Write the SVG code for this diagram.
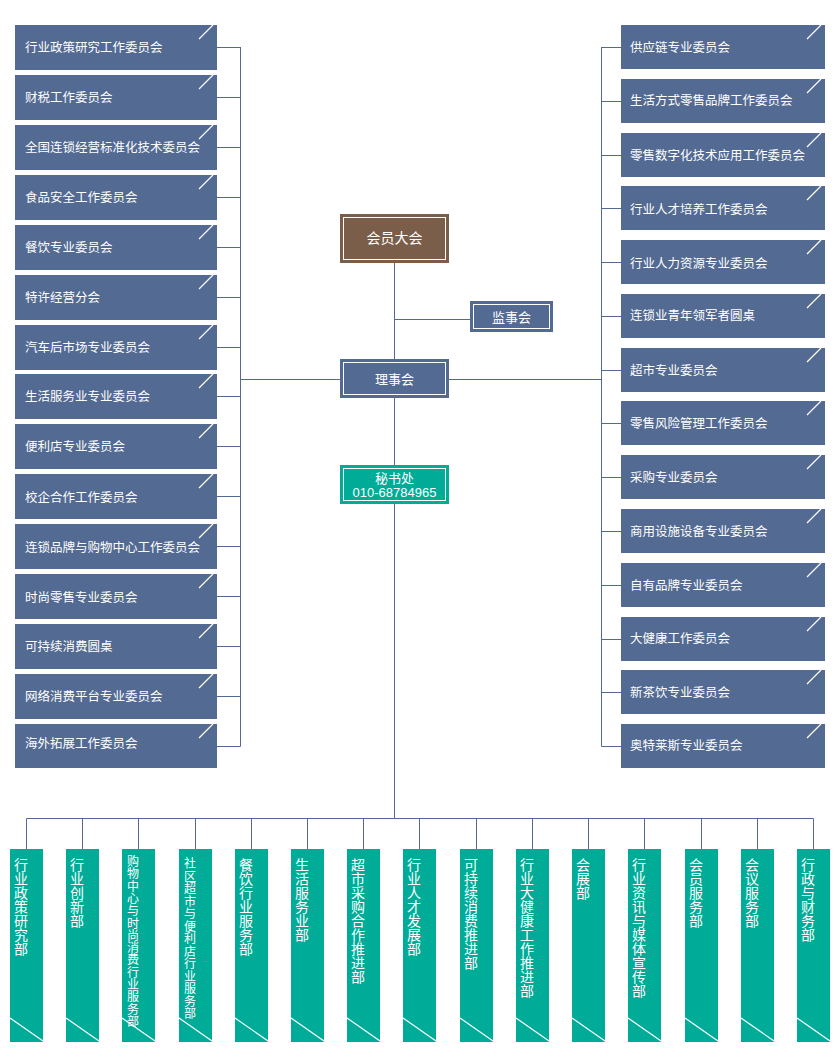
<svg xmlns="http://www.w3.org/2000/svg" width="840" height="1058" viewBox="0 0 840 1058">
<style>
text{font-family:"Liberation Sans","Noto Sans CJK SC",sans-serif;fill:#fff}
.b{fill:#536a92}
.t{fill:#00ac98}
.lbl{font-size:12.5px}
.v{font-size:14px;text-anchor:middle}
.c{text-anchor:middle;font-size:13px}
.d{stroke:#fff;stroke-width:1.2;fill:none}
.ln{stroke:#536a92;stroke-width:1;fill:none}
.in{fill:none;stroke:#fff;stroke-width:1}
</style>
<defs>
<g id="lcorner"><line class="d" x1="-18" y1="14" x2="-4" y2="0"/></g>
<g id="bcorner"><line class="d" x1="0" y1="169" x2="33" y2="192"/></g>
</defs>
<g id="connectors">
<path class="ln" d="M394.5 263V359M394.5 398V465M394.5 504V818.5M394.5 319.5H470"/>
<path class="ln" d="M240.5 47V746.5M240.5 379.5H340"/>
<path class="ln" d="M217 47.5H240.5M217 97.5H240.5M217 147.5H240.5M217 197.5H240.5M217 247.5H240.5M217 297.5H240.5M217 347.5H240.5M217 396.5H240.5M217 446.5H240.5M217 496.5H240.5M217 546.5H240.5M217 596.5H240.5M217 646.5H240.5M217 696.5H240.5M217 746.5H240.5"/>
<path class="ln" d="M601.5 47V746.5M449 379.5H601.5"/>
<path class="ln" d="M601.5 47.5H621M601.5 101.5H621M601.5 155.5H621M601.5 208.5H621M601.5 262.5H621M601.5 316.5H621M601.5 370.5H621M601.5 423.5H621M601.5 477.5H621M601.5 531.5H621M601.5 585.5H621M601.5 639.5H621M601.5 692.5H621M601.5 746.5H621"/>
<path class="ln" d="M26.5 818.5H813.5M26.5 818.5V849M82.5 818.5V849M138.5 818.5V849M195.5 818.5V849M251.5 818.5V849M307.5 818.5V849M363.5 818.5V849M419.5 818.5V849M476.5 818.5V849M532.5 818.5V849M588.5 818.5V849M644.5 818.5V849M701.5 818.5V849M757.5 818.5V849M813.5 818.5V849"/>
</g>
<g id="n-hyda">
<rect x="340" y="214" width="109" height="49" fill="#7a5e49"/>
<rect class="in" x="343.5" y="217.5" width="102" height="42"/>
<text x="394.5" y="243" class="c" style="font-size:14px">会员大会</text>
</g>
<g id="n-jsh">
<rect class="b" x="470" y="301" width="83" height="31"/>
<rect class="in" x="473.5" y="304.5" width="76" height="24"/>
<text x="511.5" y="321.5" class="c">监事会</text>
</g>
<g id="n-lsh">
<rect class="b" x="340" y="359" width="109" height="39"/>
<rect class="in" x="343.5" y="362.5" width="102" height="32"/>
<text x="394.5" y="383.5" class="c">理事会</text>
</g>
<g id="n-msc">
<rect class="t" x="340" y="465" width="109" height="39"/>
<rect class="in" x="343.5" y="468.5" width="102" height="32"/>
<text x="394.5" y="483" class="c">秘书处</text>
<text x="394.5" y="497" class="c">010-68784965</text>
</g>
<g id="left-committees">
<g id="l1"><rect class="b" x="15" y="25" width="202" height="45"/><use href="#lcorner" x="217" y="25"/><text class="lbl" x="25" y="52">行业政策研究工作委员会</text></g>
<g id="l2"><rect class="b" x="15" y="75" width="202" height="45"/><use href="#lcorner" x="217" y="75"/><text class="lbl" x="25" y="102">财税工作委员会</text></g>
<g id="l3"><rect class="b" x="15" y="125" width="202" height="45"/><use href="#lcorner" x="217" y="125"/><text class="lbl" x="25" y="152">全国连锁经营标准化技术委员会</text></g>
<g id="l4"><rect class="b" x="15" y="175" width="202" height="45"/><use href="#lcorner" x="217" y="175"/><text class="lbl" x="25" y="202">食品安全工作委员会</text></g>
<g id="l5"><rect class="b" x="15" y="225" width="202" height="45"/><use href="#lcorner" x="217" y="225"/><text class="lbl" x="25" y="252">餐饮专业委员会</text></g>
<g id="l6"><rect class="b" x="15" y="275" width="202" height="45"/><use href="#lcorner" x="217" y="275"/><text class="lbl" x="25" y="302">特许经营分会</text></g>
<g id="l7"><rect class="b" x="15" y="325" width="202" height="45"/><use href="#lcorner" x="217" y="325"/><text class="lbl" x="25" y="352">汽车后市场专业委员会</text></g>
<g id="l8"><rect class="b" x="15" y="374" width="202" height="45"/><use href="#lcorner" x="217" y="374"/><text class="lbl" x="25" y="401">生活服务业专业委员会</text></g>
<g id="l9"><rect class="b" x="15" y="424" width="202" height="45"/><use href="#lcorner" x="217" y="424"/><text class="lbl" x="25" y="451">便利店专业委员会</text></g>
<g id="l10"><rect class="b" x="15" y="474" width="202" height="45"/><use href="#lcorner" x="217" y="474"/><text class="lbl" x="25" y="502">校企合作工作委员会</text></g>
<g id="l11"><rect class="b" x="15" y="524" width="202" height="45"/><use href="#lcorner" x="217" y="524"/><text class="lbl" x="25" y="552">连锁品牌与购物中心工作委员会</text></g>
<g id="l12"><rect class="b" x="15" y="574" width="202" height="45"/><use href="#lcorner" x="217" y="574"/><text class="lbl" x="25" y="602">时尚零售专业委员会</text></g>
<g id="l13"><rect class="b" x="15" y="624" width="202" height="45"/><use href="#lcorner" x="217" y="624"/><text class="lbl" x="25" y="651">可持续消费圆桌</text></g>
<g id="l14"><rect class="b" x="15" y="674" width="202" height="45"/><use href="#lcorner" x="217" y="674"/><text class="lbl" x="25" y="701">网络消费平台专业委员会</text></g>
<g id="l15"><rect class="b" x="15" y="724" width="202" height="44"/><use href="#lcorner" x="217" y="724"/><text class="lbl" x="25" y="748">海外拓展工作委员会</text></g>
</g>
<g id="right-committees">
<g id="r1"><rect class="b" x="621" y="25" width="204" height="44"/><use href="#lcorner" x="825" y="25"/><text class="lbl" x="630" y="52">供应链专业委员会</text></g>
<g id="r2"><rect class="b" x="621" y="79" width="204" height="44"/><use href="#lcorner" x="825" y="79"/><text class="lbl" x="630" y="105">生活方式零售品牌工作委员会</text></g>
<g id="r3"><rect class="b" x="621" y="133" width="204" height="44"/><use href="#lcorner" x="825" y="133"/><text class="lbl" x="630" y="160">零售数字化技术应用工作委员会</text></g>
<g id="r4"><rect class="b" x="621" y="186" width="204" height="44"/><use href="#lcorner" x="825" y="186"/><text class="lbl" x="630" y="214">行业人才培养工作委员会</text></g>
<g id="r5"><rect class="b" x="621" y="240" width="204" height="44"/><use href="#lcorner" x="825" y="240"/><text class="lbl" x="630" y="268">行业人力资源专业委员会</text></g>
<g id="r6"><rect class="b" x="621" y="294" width="204" height="44"/><use href="#lcorner" x="825" y="294"/><text class="lbl" x="630" y="320">连锁业青年领军者圆桌</text></g>
<g id="r7"><rect class="b" x="621" y="348" width="204" height="44"/><use href="#lcorner" x="825" y="348"/><text class="lbl" x="630" y="375">超市专业委员会</text></g>
<g id="r8"><rect class="b" x="621" y="401" width="204" height="44"/><use href="#lcorner" x="825" y="401"/><text class="lbl" x="630" y="428">零售风险管理工作委员会</text></g>
<g id="r9"><rect class="b" x="621" y="455" width="204" height="44"/><use href="#lcorner" x="825" y="455"/><text class="lbl" x="630" y="482">采购专业委员会</text></g>
<g id="r10"><rect class="b" x="621" y="509" width="204" height="44"/><use href="#lcorner" x="825" y="509"/><text class="lbl" x="630" y="536">商用设施设备专业委员会</text></g>
<g id="r11"><rect class="b" x="621" y="563" width="204" height="44"/><use href="#lcorner" x="825" y="563"/><text class="lbl" x="630" y="590">自有品牌专业委员会</text></g>
<g id="r12"><rect class="b" x="621" y="617" width="204" height="44"/><use href="#lcorner" x="825" y="617"/><text class="lbl" x="630" y="643">大健康工作委员会</text></g>
<g id="r13"><rect class="b" x="621" y="670" width="204" height="44"/><use href="#lcorner" x="825" y="670"/><text class="lbl" x="630" y="697">新茶饮专业委员会</text></g>
<g id="r14"><rect class="b" x="621" y="724" width="204" height="44"/><use href="#lcorner" x="825" y="724"/><text class="lbl" x="630" y="750">奥特莱斯专业委员会</text></g>
</g>
<g id="departments">
<g id="d1"><rect class="t" x="10" y="849" width="33" height="193"/><use href="#bcorner" x="10" y="849"/><text class="v" x="21" y="870"><tspan x="21">行</tspan><tspan x="21" dy="14">业</tspan><tspan x="21" dy="14">政</tspan><tspan x="21" dy="14">策</tspan><tspan x="21" dy="14">研</tspan><tspan x="21" dy="14">究</tspan><tspan x="21" dy="14">部</tspan></text></g>
<g id="d2"><rect class="t" x="66" y="849" width="33" height="193"/><use href="#bcorner" x="66" y="849"/><text class="v" x="77" y="870"><tspan x="77">行</tspan><tspan x="77" dy="14">业</tspan><tspan x="77" dy="14">创</tspan><tspan x="77" dy="14">新</tspan><tspan x="77" dy="14">部</tspan></text></g>
<g id="d3"><rect class="t" x="122" y="849" width="33" height="193"/><use href="#bcorner" x="122" y="849"/><text class="v" x="133" y="866" style="font-size:12px"><tspan x="133">购</tspan><tspan x="133" dy="12.3">物</tspan><tspan x="133" dy="12.3">中</tspan><tspan x="133" dy="12.3">心</tspan><tspan x="133" dy="12.3">与</tspan><tspan x="133" dy="12.3">时</tspan><tspan x="133" dy="12.3">尚</tspan><tspan x="133" dy="12.3">消</tspan><tspan x="133" dy="12.3">费</tspan><tspan x="133" dy="12.3">行</tspan><tspan x="133" dy="12.3">业</tspan><tspan x="133" dy="12.3">服</tspan><tspan x="133" dy="12.3">务</tspan><tspan x="133" dy="12.3">部</tspan></text></g>
<g id="d4"><rect class="t" x="179" y="849" width="33" height="193"/><use href="#bcorner" x="179" y="849"/><text class="v" x="190" y="868" style="font-size:12px"><tspan x="190">社</tspan><tspan x="190" dy="12.5">区</tspan><tspan x="190" dy="12.5">超</tspan><tspan x="190" dy="12.5">市</tspan><tspan x="190" dy="12.5">与</tspan><tspan x="190" dy="12.5">便</tspan><tspan x="190" dy="12.5">利</tspan><tspan x="190" dy="12.5">店</tspan><tspan x="190" dy="12.5">行</tspan><tspan x="190" dy="12.5">业</tspan><tspan x="190" dy="12.5">服</tspan><tspan x="190" dy="12.5">务</tspan><tspan x="190" dy="12.5">部</tspan></text></g>
<g id="d5"><rect class="t" x="235" y="849" width="33" height="193"/><use href="#bcorner" x="235" y="849"/><text class="v" x="246" y="870"><tspan x="246">餐</tspan><tspan x="246" dy="14">饮</tspan><tspan x="246" dy="14">行</tspan><tspan x="246" dy="14">业</tspan><tspan x="246" dy="14">服</tspan><tspan x="246" dy="14">务</tspan><tspan x="246" dy="14">部</tspan></text></g>
<g id="d6"><rect class="t" x="291" y="849" width="33" height="193"/><use href="#bcorner" x="291" y="849"/><text class="v" x="302" y="870"><tspan x="302">生</tspan><tspan x="302" dy="14">活</tspan><tspan x="302" dy="14">服</tspan><tspan x="302" dy="14">务</tspan><tspan x="302" dy="14">业</tspan><tspan x="302" dy="14">部</tspan></text></g>
<g id="d7"><rect class="t" x="347" y="849" width="33" height="193"/><use href="#bcorner" x="347" y="849"/><text class="v" x="358" y="870"><tspan x="358">超</tspan><tspan x="358" dy="14">市</tspan><tspan x="358" dy="14">采</tspan><tspan x="358" dy="14">购</tspan><tspan x="358" dy="14">合</tspan><tspan x="358" dy="14">作</tspan><tspan x="358" dy="14">推</tspan><tspan x="358" dy="14">进</tspan><tspan x="358" dy="14">部</tspan></text></g>
<g id="d8"><rect class="t" x="403" y="849" width="33" height="193"/><use href="#bcorner" x="403" y="849"/><text class="v" x="414" y="870"><tspan x="414">行</tspan><tspan x="414" dy="14">业</tspan><tspan x="414" dy="14">人</tspan><tspan x="414" dy="14">才</tspan><tspan x="414" dy="14">发</tspan><tspan x="414" dy="14">展</tspan><tspan x="414" dy="14">部</tspan></text></g>
<g id="d9"><rect class="t" x="460" y="849" width="33" height="193"/><use href="#bcorner" x="460" y="849"/><text class="v" x="471" y="870"><tspan x="471">可</tspan><tspan x="471" dy="14">持</tspan><tspan x="471" dy="14">续</tspan><tspan x="471" dy="14">消</tspan><tspan x="471" dy="14">费</tspan><tspan x="471" dy="14">推</tspan><tspan x="471" dy="14">进</tspan><tspan x="471" dy="14">部</tspan></text></g>
<g id="d10"><rect class="t" x="516" y="849" width="33" height="193"/><use href="#bcorner" x="516" y="849"/><text class="v" x="527" y="870"><tspan x="527">行</tspan><tspan x="527" dy="14">业</tspan><tspan x="527" dy="14">大</tspan><tspan x="527" dy="14">健</tspan><tspan x="527" dy="14">康</tspan><tspan x="527" dy="14">工</tspan><tspan x="527" dy="14">作</tspan><tspan x="527" dy="14">推</tspan><tspan x="527" dy="14">进</tspan><tspan x="527" dy="14">部</tspan></text></g>
<g id="d11"><rect class="t" x="572" y="849" width="33" height="193"/><use href="#bcorner" x="572" y="849"/><text class="v" x="583" y="870"><tspan x="583">会</tspan><tspan x="583" dy="14">展</tspan><tspan x="583" dy="14">部</tspan></text></g>
<g id="d12"><rect class="t" x="628" y="849" width="33" height="193"/><use href="#bcorner" x="628" y="849"/><text class="v" x="639" y="870"><tspan x="639">行</tspan><tspan x="639" dy="14">业</tspan><tspan x="639" dy="14">资</tspan><tspan x="639" dy="14">讯</tspan><tspan x="639" dy="14">与</tspan><tspan x="639" dy="14">媒</tspan><tspan x="639" dy="14">体</tspan><tspan x="639" dy="14">宣</tspan><tspan x="639" dy="14">传</tspan><tspan x="639" dy="14">部</tspan></text></g>
<g id="d13"><rect class="t" x="685" y="849" width="33" height="193"/><use href="#bcorner" x="685" y="849"/><text class="v" x="696" y="870"><tspan x="696">会</tspan><tspan x="696" dy="14">员</tspan><tspan x="696" dy="14">服</tspan><tspan x="696" dy="14">务</tspan><tspan x="696" dy="14">部</tspan></text></g>
<g id="d14"><rect class="t" x="741" y="849" width="33" height="193"/><use href="#bcorner" x="741" y="849"/><text class="v" x="752" y="870"><tspan x="752">会</tspan><tspan x="752" dy="14">议</tspan><tspan x="752" dy="14">服</tspan><tspan x="752" dy="14">务</tspan><tspan x="752" dy="14">部</tspan></text></g>
<g id="d15"><rect class="t" x="797" y="849" width="33" height="193"/><use href="#bcorner" x="797" y="849"/><text class="v" x="808" y="870"><tspan x="808">行</tspan><tspan x="808" dy="14">政</tspan><tspan x="808" dy="14">与</tspan><tspan x="808" dy="14">财</tspan><tspan x="808" dy="14">务</tspan><tspan x="808" dy="14">部</tspan></text></g>
</g>
</svg>
